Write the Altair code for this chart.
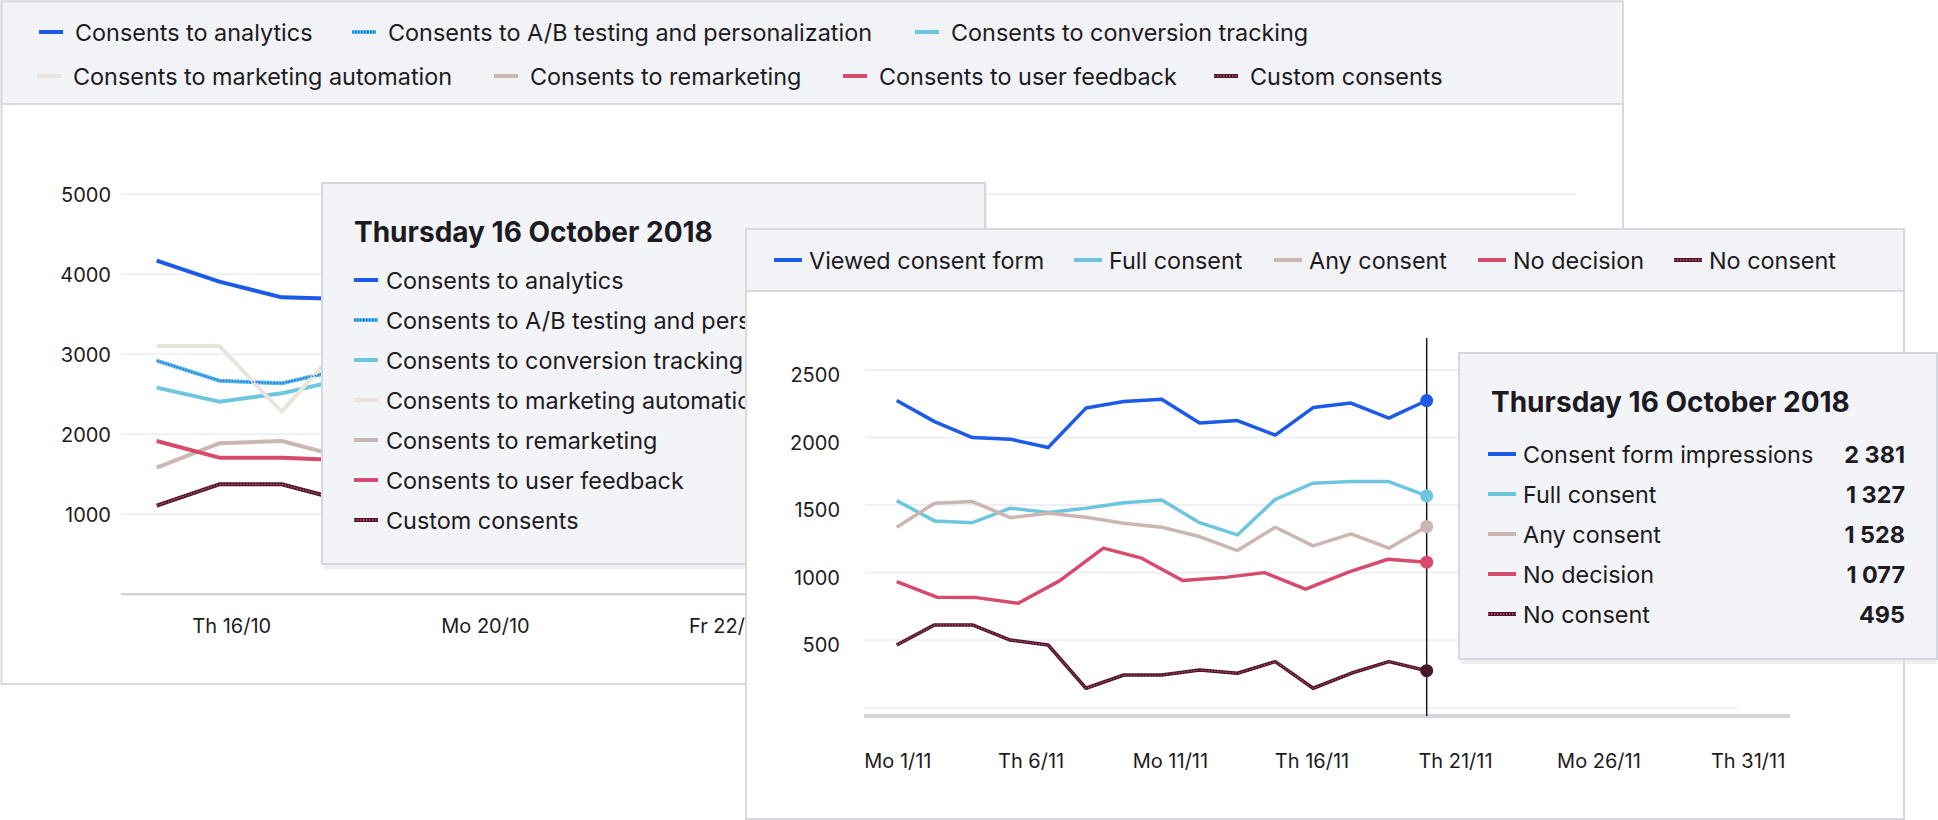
import altair as alt
import pandas as pd

FONT = "Inter"
INK = "#1d1a21"

# ---------------- October panel: consent categories (back card) ----------------
oct_names = [
    "Consents to analytics",
    "Consents to A/B testing and personalization",
    "Consents to conversion tracking",
    "Consents to marketing automation",
    "Consents to remarketing",
    "Consents to user feedback",
    "Custom consents",
]
oct_x = [0, 1, 2, 3]
oct_analytics = [4170, 3908, 3712, 3690]
oct_ab_testing = [2920, 2670, 2637, 2817]
oct_conversion = [2583, 2408, 2512, 2692]
oct_marketing = [3104, 3104, 2283, 3163]
oct_remarketing = [1583, 1887, 1916, 1711]
oct_feedback = [1916, 1708, 1708, 1676]
oct_custom = [1108, 1375, 1375, 1169]
oct_y_ticks = [1000, 2000, 3000, 4000, 5000]
oct_x_labels = ["Th 16/10", "Mo 20/10", "Fr 22/10"]
oct_x_label_at = [1.2, 5.26, 9.13]
oct_colors = ["#1c5ae8", "#58b9e2", "#6ec6de", "#e9e5db", "#cbb6b2", "#d64a6b", "#4a1a2e"]

# ---------------- November panel: consent funnel (front card) ----------------
nov_names = ["Viewed consent form", "Full consent", "Any consent", "No decision", "No consent"]
nov_x = [0, 1, 2, 3, 4, 5, 6, 7, 8, 9, 10, 11, 12, 13, 14]
nov_viewed = [2274, 2118, 2000, 1988, 1926, 2218, 2267, 2284, 2107, 2126, 2018, 2222, 2255, 2144, 2274]
nov_full = [1533, 1383, 1370, 1477, 1445, 1477, 1518, 1538, 1370, 1279, 1543, 1662, 1674, 1674, 1568]
nov_any = [1336, 1514, 1526, 1407, 1440, 1410, 1366, 1336, 1267, 1163, 1336, 1198, 1287, 1181, 1341]
nov_no_decision_x = [0, 1.06, 2.11, 3.21, 4.31, 5.46, 6.47, 7.55, 8.63, 9.71, 10.8, 11.97, 12.98, 14]
nov_no_decision = [933, 818, 815, 773, 941, 1181, 1107, 941, 963, 1000, 877, 1007, 1099, 1077]
nov_no_consent = [464, 613, 613, 501, 464, 144, 242, 242, 279, 255, 341, 144, 255, 341, 274]
nov_grid = [0, 500, 1000, 1500, 2000, 2500]
nov_y_ticks = [500, 1000, 1500, 2000, 2500]
nov_x_labels = ["Mo 1/11", "Th 6/11", "Mo 11/11", "Th 16/11", "Th 21/11", "Mo 26/11", "Th 31/11"]
nov_x_label_at = [0.03, 3.55, 7.23, 10.97, 14.76, 18.55, 22.49]
nov_colors = ["#1c5ae8", "#6ec6de", "#cbb6b2", "#d64a6b", "#45192b"]

# hover cards
hover_title = "Thursday 16 October 2018"
hover_labels = ["Consent form impressions", "Full consent", "Any consent", "No decision", "No consent"]
hover_values = [2381, 1327, 1528, 1077, 495]

# series drawn with a dotted inner stroke, and the colour of those dots
dotted_accent = {
    "Consents to A/B testing and personalization": "#1c5ae8",
    "Custom consents": "#e0456f",
    "No consent": "#e0456f",
}

# ---------------- layout (pixels) ----------------
CARD1 = (1.5, 1.5, 1623, 684)
CARD1_HEAD = 104
TIP1 = (322, 183, 985, 564)
CARD2 = (746, 229, 1904, 819)
CARD2_HEAD = 291
TIP2 = (1459, 353, 1937, 659)

TEXT_SIZE = 23.4
TITLE_SIZE = 28
AXIS_SIZE = 20

legend1_text_x = [75, 388, 951, 73, 530, 879, 1250]
legend1_y = [32, 32, 32, 76, 76, 76, 76]
legend2_text_x = [809, 1109, 1309, 1513, 1709]
legend2_y = 260
tip1_rows_y = [280, 320, 360, 400, 440, 480, 520]
tip2_rows_y = [454, 494, 534, 574, 614]

OCT_X = alt.Scale(domain=[0, 10], range=[156.7, 781.7], nice=False, zero=False)
OCT_Y = alt.Scale(domain=[0, 5000], range=[594.3, 194.3], nice=False, zero=False)
NOV_X = alt.Scale(domain=[0, 14], range=[896.7, 1426.7], nice=False, zero=False)
NOV_Y = alt.Scale(domain=[0, 2500], range=[707.7, 370], nice=False, zero=False)

one = pd.DataFrame({"k": [0]})


def box(x0, y0, x1, y1, fill, stroke=None, sw=1.5, opacity=1.0):
    kw = dict(fill=fill, opacity=opacity)
    if stroke:
        kw.update(stroke=stroke, strokeWidth=sw)
    return alt.Chart(one).mark_rect(**kw).encode(
        x=alt.value(x0), x2=alt.value(x1), y=alt.value(y0), y2=alt.value(y1)
    )


def hline(x0, x1, y, color, sw):
    return alt.Chart(one).mark_rule(color=color, strokeWidth=sw).encode(
        x=alt.value(x0), x2=alt.value(x1), y=alt.value(y)
    )


def texts(df, size, weight="normal", align="left", color=INK, dy=2):
    return alt.Chart(df).mark_text(
        align=align, baseline="middle", fontSize=size, fontWeight=weight, font=FONT,
        color=color, dy=dy
    ).encode(
        x=alt.X("px:Q", scale=None, axis=None),
        y=alt.Y("py:Q", scale=None, axis=None),
        text="label:N",
    )


def swatches(names, colors, x_end, ys, length, sw=4):
    df = pd.DataFrame({
        "series": names,
        "sx0": [x - length for x in x_end],
        "sx1": x_end,
        "py": ys,
    })
    base = alt.Chart(df).mark_rule(strokeWidth=sw).encode(
        x=alt.X("sx0:Q", scale=None, axis=None),
        x2="sx1:Q",
        y=alt.Y("py:Q", scale=None, axis=None),
        color=alt.Color("series:N", scale=alt.Scale(domain=names, range=colors), legend=None),
    )
    dotted = [n for n in names if n in dotted_accent]
    if not dotted:
        return base
    dots = alt.Chart(df[df.series.isin(dotted)]).mark_rule(strokeWidth=1.3, strokeDash=[1.5, 1.5]).encode(
        x=alt.X("sx0:Q", scale=None, axis=None),
        x2="sx1:Q",
        y=alt.Y("py:Q", scale=None, axis=None),
        color=alt.Color("series:N", scale=alt.Scale(domain=dotted, range=[dotted_accent[n] for n in dotted]),
                        legend=None),
    )
    return alt.layer(base, dots).resolve_scale(color="independent")


def dotted_overlay(df, xs, ys, width):
    dotted = [n for n in df.series.unique() if n in dotted_accent]
    return alt.Chart(df[df.series.isin(dotted)]).mark_line(strokeWidth=width, strokeDash=[1.5, 1.5]).encode(
        x=alt.X("x:Q", scale=xs, axis=None),
        y=alt.Y("value:Q", scale=ys, axis=None),
        color=alt.Color("series:N", scale=alt.Scale(domain=dotted, range=[dotted_accent[n] for n in dotted]),
                        legend=None),
        order="x:Q",
    )


# ---------------- October data frames ----------------
oct_series = [oct_analytics, oct_ab_testing, oct_conversion, oct_marketing,
              oct_remarketing, oct_feedback, oct_custom]
oct_long = pd.DataFrame([
    {"series": n, "x": x, "value": v}
    for n, vals in zip(oct_names, oct_series)
    for x, v in zip(oct_x, vals)
])

oct_lines = alt.Chart(oct_long).mark_line(strokeWidth=4, strokeJoin="round").encode(
    x=alt.X("x:Q", scale=OCT_X, axis=None),
    y=alt.Y("value:Q", scale=OCT_Y, axis=None),
    color=alt.Color("series:N", scale=alt.Scale(domain=oct_names, range=oct_colors), legend=None),
    order="x:Q",
)
oct_dots = dotted_overlay(oct_long, OCT_X, OCT_Y, 1.3)

oct_ticks = pd.DataFrame({"tick": oct_y_ticks})
oct_grid = alt.Chart(oct_ticks).mark_rule(color="#eef0f5", strokeWidth=2).encode(
    y=alt.Y("tick:Q", scale=OCT_Y, axis=None), x=alt.value(121), x2=alt.value(1576)
)
oct_ylab = alt.Chart(oct_ticks).mark_text(
    align="right", baseline="middle", fontSize=AXIS_SIZE, font=FONT, color=INK, dy=1.5
).encode(y=alt.Y("tick:Q", scale=OCT_Y, axis=None), x=alt.value(111), text=alt.Text("tick:Q", format="d"))
oct_base = alt.Chart(pd.DataFrame({"tick": [0]})).mark_rule(color="#c9cbd7", strokeWidth=2).encode(
    y=alt.Y("tick:Q", scale=OCT_Y, axis=None), x=alt.value(121), x2=alt.value(1576)
)
oct_xlab = alt.Chart(pd.DataFrame({"label": oct_x_labels, "at": oct_x_label_at})).mark_text(
    align="center", baseline="middle", fontSize=AXIS_SIZE, font=FONT, color=INK
).encode(x=alt.X("at:Q", scale=OCT_X, axis=None), y=alt.value(627), text="label:N")

legend1_text = texts(pd.DataFrame({"label": oct_names, "px": legend1_text_x, "py": legend1_y}), TEXT_SIZE)
legend1_sw = swatches(oct_names, oct_colors, [x - 12 for x in legend1_text_x], legend1_y, 24)

tip1_title = texts(pd.DataFrame({"label": [hover_title], "px": [354], "py": [232]}), TITLE_SIZE, weight="bold")
tip1_text = texts(pd.DataFrame({"label": oct_names, "px": [386] * 7, "py": tip1_rows_y}), TEXT_SIZE)
tip1_sw = swatches(oct_names, oct_colors, [378] * 7, tip1_rows_y, 24)

# ---------------- November data frames ----------------
nov_rows = []
for n, xs, vals in [
    (nov_names[0], nov_x, nov_viewed),
    (nov_names[1], nov_x, nov_full),
    (nov_names[2], nov_x, nov_any),
    (nov_names[3], nov_no_decision_x, nov_no_decision),
    (nov_names[4], nov_x, nov_no_consent),
]:
    for x, v in zip(xs, vals):
        nov_rows.append({"series": n, "x": x, "value": v})
nov_long = pd.DataFrame(nov_rows)
nov_last = nov_long.loc[nov_long.groupby("series")["x"].idxmax()]

nov_color = alt.Color("series:N", scale=alt.Scale(domain=nov_names, range=nov_colors), legend=None)
nov_lines = alt.Chart(nov_long).mark_line(strokeWidth=3.5, strokeJoin="round").encode(
    x=alt.X("x:Q", scale=NOV_X, axis=None),
    y=alt.Y("value:Q", scale=NOV_Y, axis=None),
    color=nov_color,
    order="x:Q",
)
nov_dotted = dotted_overlay(nov_long, NOV_X, NOV_Y, 1.1)
nov_points = alt.Chart(nov_last).mark_circle(size=170, opacity=1).encode(
    x=alt.X("x:Q", scale=NOV_X, axis=None),
    y=alt.Y("value:Q", scale=NOV_Y, axis=None),
    color=nov_color,
)
nov_cursor = alt.Chart(pd.DataFrame({"x": [nov_x[-1]]})).mark_rule(color=INK, strokeWidth=1.5).encode(
    x=alt.X("x:Q", scale=NOV_X, axis=None), y=alt.value(338), y2=alt.value(716)
)

nov_grid_rules = alt.Chart(pd.DataFrame({"tick": nov_grid})).mark_rule(color="#eef0f5", strokeWidth=2).encode(
    y=alt.Y("tick:Q", scale=NOV_Y, axis=None), x=alt.value(865), x2=alt.value(1737)
)
nov_ylab = alt.Chart(pd.DataFrame({"tick": nov_y_ticks})).mark_text(
    align="right", baseline="middle", fontSize=AXIS_SIZE, font=FONT, color=INK, dy=6
).encode(y=alt.Y("tick:Q", scale=NOV_Y, axis=None), x=alt.value(840), text=alt.Text("tick:Q", format="d"))
nov_base = hline(864, 1790, 716, "#d3d5dc", 4)
nov_xlab = alt.Chart(pd.DataFrame({"label": nov_x_labels, "at": nov_x_label_at})).mark_text(
    align="center", baseline="middle", fontSize=AXIS_SIZE, font=FONT, color=INK
).encode(x=alt.X("at:Q", scale=NOV_X, axis=None), y=alt.value(762), text="label:N")

legend2_text = texts(pd.DataFrame({"label": nov_names, "px": legend2_text_x, "py": [legend2_y] * 5}), TEXT_SIZE)
legend2_sw = swatches(nov_names, nov_colors, [x - 7 for x in legend2_text_x], [legend2_y] * 5, 28)

hover_fmt = [f"{v:,}".replace(",", " ") for v in hover_values]
tip2_title = texts(pd.DataFrame({"label": [hover_title], "px": [1491], "py": [402]}), TITLE_SIZE, weight="bold")
tip2_text = texts(pd.DataFrame({"label": hover_labels, "px": [1523] * 5, "py": tip2_rows_y}), TEXT_SIZE)
tip2_vals = texts(pd.DataFrame({"label": hover_fmt, "px": [1905] * 5, "py": tip2_rows_y}), TEXT_SIZE,
                  weight="bold", align="right")
tip2_sw = swatches(hover_labels, nov_colors, [1516] * 5, tip2_rows_y, 28)

layers = [
    # back card
    box(*CARD1, fill="white", stroke="#d8dae1", sw=2),
    box(CARD1[0], CARD1[1], CARD1[2], CARD1_HEAD, fill="#f2f3f7", stroke="#d8dae1", sw=2),
    legend1_sw, legend1_text,
    oct_grid, oct_base, oct_ylab, oct_xlab,
    oct_lines, oct_dots,
    # hover card over the back chart
    box(TIP1[0] + 2, TIP1[1] + 3, TIP1[2] + 2, TIP1[3] + 5, fill="#e4e5ea", opacity=0.6),
    box(*TIP1, fill="#f3f4f8", stroke="#d5d7de", sw=2),
    tip1_title, tip1_sw, tip1_text,
    # front card
    box(*CARD2, fill="white", stroke="#d8dae1", sw=2),
    box(CARD2[0], CARD2[1], CARD2[2], CARD2_HEAD, fill="#f2f3f7", stroke="#d8dae1", sw=2),
    legend2_sw, legend2_text,
    nov_grid_rules, nov_base, nov_ylab, nov_xlab,
    nov_cursor, nov_lines, nov_dotted, nov_points,
    # hover card over the front chart
    box(TIP2[0] + 2, TIP2[1] + 3, TIP2[2], TIP2[3] + 5, fill="#e4e5ea", opacity=0.6),
    box(*TIP2, fill="#f3f4f8", stroke="#d5d7de", sw=2),
    tip2_title, tip2_sw, tip2_text, tip2_vals,
]

chart = alt.layer(*layers).resolve_scale(
    x="independent", y="independent", color="independent"
).properties(
    width=1938, height=820, padding=0,
    autosize=alt.AutoSizeParams(type="none"),
    background="white",
).configure_view(stroke=None)

chart.save("out.html", embed_options={"renderer": "svg", "actions": False})
